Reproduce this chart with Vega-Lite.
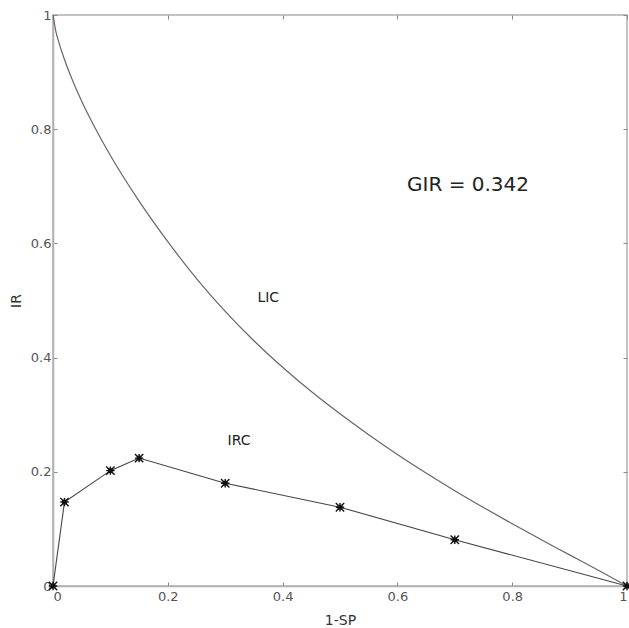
{
  "$schema": "https://vega.github.io/schema/vega-lite/v6.json",
  "width": 574,
  "height": 571,
  "autosize": {"type": "none"},
  "padding": {"left": 53, "top": 15, "right": 2, "bottom": 42},
  "background": "white",
  "config": {
    "view": {"stroke": "#b0b0b0", "strokeWidth": 1.5},
    "axis": {
      "grid": false,
      "domainColor": "#b0b0b0",
      "domainWidth": 1.5,
      "tickColor": "#888",
      "tickSize": -4,
      "labelFont": "DejaVu Sans",
      "labelFontSize": 13,
      "labelColor": "#555",
      "titleFont": "DejaVu Sans",
      "titleFontSize": 14,
      "titleFontWeight": "normal",
      "titleColor": "#333"
    }
  },
  "datasets": {
    "lic": [
      {"sp": 0, "ir": 1},
      {"sp": 0.005, "ir": 0.9715},
      {"sp": 0.01, "ir": 0.9528},
      {"sp": 0.02, "ir": 0.922},
      {"sp": 0.035, "ir": 0.883},
      {"sp": 0.05, "ir": 0.849},
      {"sp": 0.075, "ir": 0.799},
      {"sp": 0.1, "ir": 0.754},
      {"sp": 0.15, "ir": 0.674},
      {"sp": 0.2, "ir": 0.603},
      {"sp": 0.25, "ir": 0.5385},
      {"sp": 0.3, "ir": 0.481},
      {"sp": 0.35, "ir": 0.4295},
      {"sp": 0.4, "ir": 0.383},
      {"sp": 0.45, "ir": 0.3405},
      {"sp": 0.5, "ir": 0.3015},
      {"sp": 0.55, "ir": 0.265},
      {"sp": 0.6, "ir": 0.2305},
      {"sp": 0.65, "ir": 0.198},
      {"sp": 0.7, "ir": 0.167},
      {"sp": 0.75, "ir": 0.1375},
      {"sp": 0.8, "ir": 0.109},
      {"sp": 0.85, "ir": 0.0815},
      {"sp": 0.9, "ir": 0.0545},
      {"sp": 0.95, "ir": 0.0275},
      {"sp": 1, "ir": 0}
    ],
    "irc": [
      {"sp": 0, "ir": 0},
      {"sp": 0.02, "ir": 0.147},
      {"sp": 0.1, "ir": 0.202},
      {"sp": 0.15, "ir": 0.224},
      {"sp": 0.3, "ir": 0.18},
      {"sp": 0.5, "ir": 0.138},
      {"sp": 0.7, "ir": 0.081},
      {"sp": 1, "ir": 0}
    ],
    "labels": [
      {"sp": 0.723, "ir": 0.702, "txt": "GIR = 0.342", "sz": 20},
      {"sp": 0.375, "ir": 0.504, "txt": "LIC", "sz": 14},
      {"sp": 0.324, "ir": 0.254, "txt": "IRC", "sz": 14}
    ]
  },
  "layer": [
    {
      "data": {"name": "lic"},
      "mark": {"type": "line", "color": "#666", "strokeWidth": 1.2, "interpolate": "monotone"},
      "encoding": {
        "x": {"field": "sp", "type": "quantitative", "scale": {"domain": [0, 1], "nice": false}, "axis": {"title": "1-SP", "values": [0, 0.2, 0.4, 0.6, 0.8, 1], "format": "~g", "labelPadding": 8, "titlePadding": 10}},
        "y": {"field": "ir", "type": "quantitative", "scale": {"domain": [0, 1], "nice": false}, "axis": {"title": "IR", "values": [0, 0.2, 0.4, 0.6, 0.8, 1], "format": "~g", "labelPadding": 6, "titlePadding": 7}}
      }
    },
    {
      "data": {"name": "irc"},
      "mark": {"type": "line", "color": "#444", "strokeWidth": 1.1},
      "encoding": {
        "x": {"field": "sp", "type": "quantitative", "axis": null},
        "y": {"field": "ir", "type": "quantitative", "axis": null}
      }
    },
    {
      "data": {"name": "irc"},
      "mark": {"type": "point", "shape": "square", "filled": true, "color": "#111", "size": 22, "opacity": 1},
      "encoding": {
        "x": {"field": "sp", "type": "quantitative", "axis": null},
        "y": {"field": "ir", "type": "quantitative", "axis": null}
      }
    },
    {
      "data": {"name": "irc"},
      "mark": {"type": "point", "shape": "M-1,-1L1,1M-1,1L1,-1M-1,0L1,0M0,-1L0,1", "filled": false, "color": "#111", "strokeWidth": 1.4, "size": 70, "opacity": 1},
      "encoding": {
        "x": {"field": "sp", "type": "quantitative", "axis": null},
        "y": {"field": "ir", "type": "quantitative", "axis": null}
      }
    },
    {
      "data": {"name": "labels"},
      "mark": {"type": "text", "font": "DejaVu Sans", "color": "#222", "align": "center", "baseline": "middle"},
      "encoding": {
        "x": {"field": "sp", "type": "quantitative", "axis": null},
        "y": {"field": "ir", "type": "quantitative", "axis": null},
        "text": {"field": "txt"},
        "size": {"field": "sz", "type": "quantitative", "scale": null}
      }
    },
    {
      "data": {"name": "irc"},
      "mark": {"type": "point", "opacity": 0},
      "encoding": {
        "x": {"field": "sp", "type": "quantitative", "axis": {"orient": "top", "title": null, "labels": false, "domain": false, "values": [0, 0.2, 0.4, 0.6, 0.8, 1]}},
        "y": {"field": "ir", "type": "quantitative", "axis": {"orient": "right", "title": null, "labels": false, "domain": false, "values": [0, 0.2, 0.4, 0.6, 0.8, 1]}}
      }
    }
  ],
  "resolve": {"axis": {"x": "independent", "y": "independent"}}
}
